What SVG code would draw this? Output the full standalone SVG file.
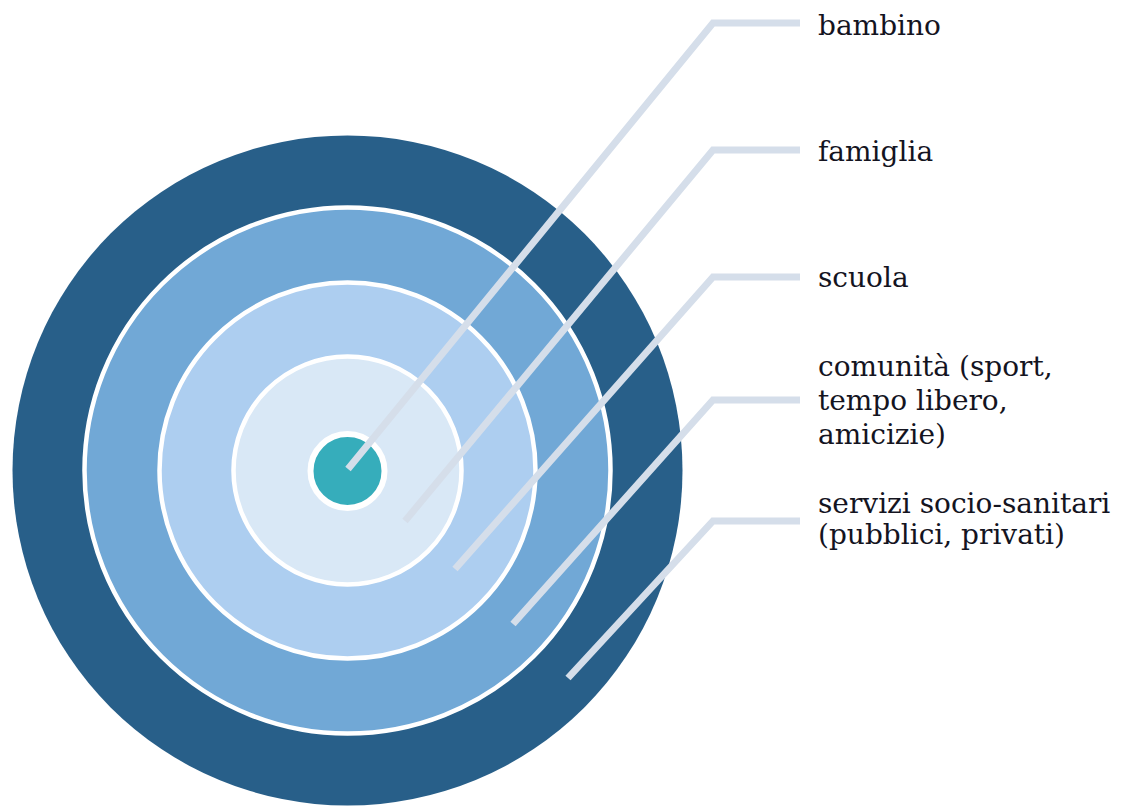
<svg xmlns="http://www.w3.org/2000/svg" width="1122" height="807" viewBox="0 0 1122 807">
<style>
.ring{stroke:#ffffff;stroke-width:4.5}
.lead{fill:none;stroke:#D5DEEA;stroke-width:7;stroke-linejoin:miter;stroke-linecap:butt}
.lbl{font-family:"DejaVu Serif","Liberation Serif",serif;font-size:28px;fill:#14141f}
</style>
<rect width="1122" height="807" fill="#ffffff"/>
<g id="servizi">
<circle cx="347.5" cy="470.5" r="335" fill="#285F89"/>
</g>
<g id="comunita">
<circle cx="347.5" cy="470.5" r="263" fill="#71A8D6" class="ring"/>
</g>
<g id="scuola">
<circle cx="347.5" cy="470.5" r="188" fill="#ADCEF0" class="ring"/>
</g>
<g id="famiglia">
<circle cx="347.5" cy="470.5" r="114" fill="#D9E8F6" class="ring"/>
</g>
<g id="bambino">
<circle cx="347.5" cy="471" r="37" fill="#36ADBB" stroke="#ffffff" stroke-width="6"/>
</g>
<g id="connectors">
<polyline class="lead" points="348,469 713,23 800,23"/>
<polyline class="lead" points="405,521 713,150 800,150"/>
<polyline class="lead" points="455,569 713,277 800,277"/>
<polyline class="lead" points="513,624 713,400 800,400"/>
<polyline class="lead" points="568,678 713,521 800,521"/>
</g>
<g id="labels">
<text class="lbl" x="818" y="35">bambino</text>
<text class="lbl" x="818" y="161">famiglia</text>
<text class="lbl" x="818" y="287">scuola</text>
<text class="lbl" x="818" y="376">comunità (sport,</text>
<text class="lbl" x="818" y="410">tempo libero,</text>
<text class="lbl" x="818" y="444">amicizie)</text>
<text class="lbl" x="818" y="513">servizi socio-sanitari</text>
<text class="lbl" x="818" y="544">(pubblici, privati)</text>
</g>
</svg>
